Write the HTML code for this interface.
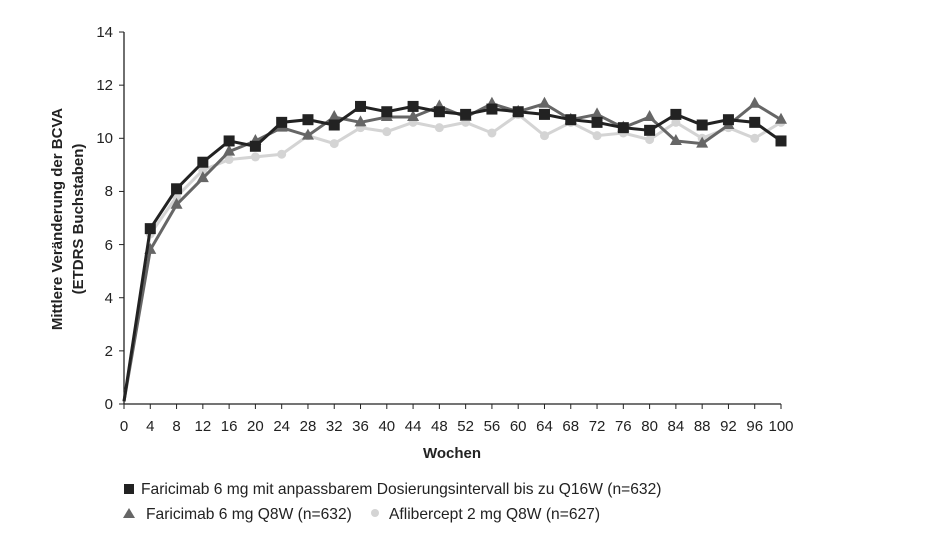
<!DOCTYPE html>
<html><head><meta charset="utf-8"><style>
html,body{margin:0;padding:0;background:#fff;}
svg{display:block;font-family:"Liberation Sans",Arial,sans-serif;}
</style></head><body>
<svg id="s" width="935" height="556" viewBox="0 0 935 556" xmlns="http://www.w3.org/2000/svg">
<rect width="935" height="556" fill="#fff"/>
<g stroke="#222" stroke-width="1.3" fill="none">
<line x1="124" y1="32" x2="124" y2="404"/>
<line x1="124" y1="404" x2="781" y2="404"/>
</g>
<g id="yt" font-size="15" fill="#222" text-anchor="end">
<text x="113" y="409">0</text><text x="113" y="356">2</text><text x="113" y="303">4</text><text x="113" y="250">6</text><text x="113" y="196">8</text><text x="113" y="143">10</text><text x="113" y="90">12</text><text x="113" y="37">14</text>
</g>
<g id="xt" font-size="15" fill="#222" text-anchor="middle"></g>
<text x="452" y="458" font-size="15" font-weight="bold" text-anchor="middle" fill="#222">Wochen</text>
<text transform="translate(62,219) rotate(-90)" font-size="15" font-weight="bold" text-anchor="middle" fill="#222">Mittlere Veränderung der BCVA</text>
<text transform="translate(83,219) rotate(-90)" font-size="15" font-weight="bold" text-anchor="middle" fill="#222">(ETDRS Buchstaben)</text>
<g id="series"></g>
<rect x="124" y="484" width="10" height="10" fill="#222"/>
<text x="141" y="494" font-size="15.6" fill="#222">Faricimab 6 mg mit anpassbarem Dosierungsintervall bis zu Q16W (n=632)</text>
<polygon points="129,508 135,518 123,518" fill="#666"/>
<text x="146" y="519" font-size="15.6" fill="#222">Faricimab 6 mg Q8W (n=632)</text>
<circle cx="375" cy="513" r="4" fill="#d4d4d4"/>
<text x="389" y="519" font-size="15.6" fill="#222">Aflibercept 2 mg Q8W (n=627)</text>
</svg>
<script>
var NS="http://www.w3.org/2000/svg";
function X(w){return 124+w*6.57;}
function Y(v){return 404-v*26.57;}
var xt=document.getElementById('xt');
for(var w=0;w<=100;w+=4){var t=document.createElementNS(NS,'text');t.setAttribute('x',X(w));t.setAttribute('y',431);t.textContent=w;xt.appendChild(t);
var l=document.createElementNS(NS,'line');l.setAttribute('x1',X(w));l.setAttribute('x2',X(w));l.setAttribute('y1',404);l.setAttribute('y2',409);l.setAttribute('stroke','#222');document.getElementById('s').insertBefore(l,xt);}
for(var v=0;v<=14;v+=2){var l=document.createElementNS(NS,'line');l.setAttribute('x1',119);l.setAttribute('x2',124);l.setAttribute('y1',Y(v));l.setAttribute('y2',Y(v));l.setAttribute('stroke','#222');document.getElementById('s').insertBefore(l,xt);}
var circ=[0.1,6.4,7.8,8.8,9.2,9.3,9.4,10.1,9.8,10.4,10.25,10.6,10.4,10.6,10.2,10.9,10.1,10.6,10.1,10.2,9.95,10.6,10.0,10.4,10.0,10.6];
var tri=[0.1,5.8,7.5,8.5,9.5,9.9,10.4,10.1,10.8,10.6,10.8,10.8,11.2,10.8,11.3,11.0,11.3,10.7,10.9,10.4,10.8,9.9,9.8,10.5,11.3,10.7];
var sq=[0.1,6.6,8.1,9.1,9.9,9.7,10.6,10.7,10.5,11.2,11.0,11.2,11.0,10.9,11.1,11.0,10.9,10.7,10.6,10.4,10.3,10.9,10.5,10.7,10.6,9.9];
var g=document.getElementById('series');
function draw(d,col,type){var p=d.map(function(v,i){return X(i*4)+','+Y(v)}).join(' ');
var pl=document.createElementNS(NS,'polyline');pl.setAttribute('points',p);pl.setAttribute('fill','none');pl.setAttribute('stroke',col);pl.setAttribute('stroke-width','3');g.appendChild(pl);
d.forEach(function(v,i){if(i==0)return;var x=X(i*4),y=Y(v),e;
if(type=='c'){e=document.createElementNS(NS,'circle');e.setAttribute('cx',x);e.setAttribute('cy',y);e.setAttribute('r',4.5);}
else if(type=='t'){e=document.createElementNS(NS,'polygon');e.setAttribute('points',x+','+(y-7)+' '+(x+6)+','+(y+4)+' '+(x-6)+','+(y+4));}
else{e=document.createElementNS(NS,'rect');e.setAttribute('x',x-5.5);e.setAttribute('y',y-5.5);e.setAttribute('width',11);e.setAttribute('height',11);}
e.setAttribute('fill',col);g.appendChild(e);});}
draw(circ,'#d4d4d4','c');draw(tri,'#666','t');draw(sq,'#222','s');
</script>
</body></html>
